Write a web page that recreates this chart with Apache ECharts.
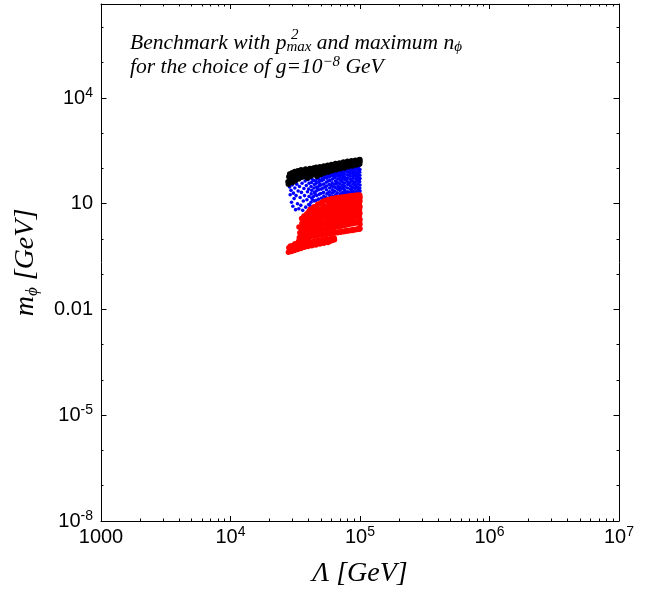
<!DOCTYPE html>
<html><head><meta charset="utf-8">
<script src="https://cdn.jsdelivr.net/npm/echarts@6/dist/echarts.min.js"></script>
<style>html,body{margin:0;padding:0;background:#fff}#c{width:652px;height:595px}</style>
</head><body><div id="c"></div>
<script>
// ---------- axis ticks & labels ----------
const xLabelTicks = [1e3, 1e4, 1e5, 1e6, 1e7];
const xLabelText = [['1000', ''], ['10', '4'], ['10', '5'], ['10', '6'], ['10', '7']];
const xMinorTicks = [2e3,3e3,4e3,5e3,6e3,7e3,8e3,9e3, 2e4,3e4,4e4,5e4,6e4,7e4,8e4,9e4,
                     2e5,3e5,4e5,5e5,6e5,7e5,8e5,9e5, 2e6,3e6,4e6,5e6,6e6,7e6,8e6,9e6];
const yLabelTicks = [1e-8, 1e-5, 1e-2, 1e1, 1e4];
const yLabelText = [['10', '-8'], ['10', '-5'], ['0.01', ''], ['10', ''], ['10', '4']];
const yDecadeTicks = [1e-7,1e-6,1e-4,1e-3,1e-1,1,1e2,1e3,1e5,1e6];
const xRange = [1e3, 1e7];
const yRange = [1e-8, 4.64e6];

// ---------- data : [Λ (GeV), m_φ (GeV)] ----------
const bluePoints = [
[28.6e3,30],[28.9e3,18],[29.3e3,24],[29.6e3,11],[29.9e3,34],[30.3e3,8.5],[30.6e3,20],[31.0e3,14],[31.4e3,28],[31.8e3,6.8],
[32.1e3,17],[32.5e3,36],[32.9e3,10],[33.3e3,23],[33.7e3,7.2],[34.1e3,31],[34.5e3,15],[34.9e3,9],[35.3e3,21],[35.7e3,38],
[36.1e3,6.5],[36.5e3,12],[36.9e3,27],[37.3e3,17],[37.7e3,44],[38.1e3,8],[38.5e3,33],[38.9e3,13],[39.3e3,22],[39.7e3,48],
[40.2e3,9.5],[40.4e3,16],[40.1e3,26],[40.5e3,38],
[42.1e3,7],[41.8e3,11],[42.3e3,14.5],[42.0e3,19],[42.4e3,24],[41.9e3,31],[42.2e3,40],[42.5e3,50],
[44.0e3,8.2],[44.3e3,12],[43.8e3,16],[44.5e3,21],[44.1e3,28],[44.4e3,35],[43.9e3,46],
[46.1e3,9],[45.8e3,12.5],[46.4e3,17],[46.0e3,23],[46.3e3,30],[45.9e3,38],[46.5e3,52],
[48.2e3,10],[47.9e3,13.5],[48.5e3,18.5],[48.0e3,25],[48.4e3,32],[48.1e3,42],[47.8e3,56],
[50.1e3,10.5],[50.4e3,14.5],[49.8e3,19.5],[50.3e3,26],[50.0e3,34],[50.5e3,45],[50.2e3,60],
[52.3e3,11],[52.0e3,13],[52.6e3,16.5],[52.2e3,21],[51.9e3,28],[52.5e3,36],[52.1e3,48],[52.4e3,63],
[55.2e3,11.5],[54.8e3,15],[55.5e3,19],[55.0e3,25],[55.3e3,32],[54.9e3,41],[55.4e3,53],[55.1e3,67],
[58.1e3,12],[57.8e3,13.5],[58.4e3,17],[58.0e3,22],[58.3e3,28],[57.9e3,35],[58.5e3,46],[58.2e3,58],[57.7e3,72],
[61.0e3,12.5],[61.4e3,16],[60.8e3,20],[61.2e3,25],[61.5e3,31],[60.9e3,39],[61.3e3,50],[61.1e3,62],[60.7e3,76],
[64.2e3,13],[63.8e3,14.5],[64.5e3,18],[64.0e3,23],[64.3e3,29],[63.9e3,36],[64.6e3,44],[64.1e3,55],[64.4e3,68],[63.7e3,80],
[67.0e3,13.5],[67.4e3,16.5],[66.8e3,20.5],[67.2e3,26],[67.5e3,32],[66.9e3,40],[67.3e3,50],[67.1e3,61],[66.7e3,73],[67.6e3,84],
[70.2e3,14],[69.8e3,15.5],[70.5e3,19],[70.0e3,24],[70.4e3,30],[69.9e3,37],[70.6e3,46],[70.1e3,56],[70.3e3,68],[69.7e3,86],
[73.1e3,14.5],[72.8e3,17.5],[73.5e3,21],[73.0e3,27],[73.3e3,34],[72.9e3,42],[73.6e3,52],[73.2e3,63],[72.7e3,76],[73.4e3,90],
[76.2e3,15],[75.8e3,16.5],[76.5e3,20],[76.0e3,25],[76.4e3,31],[75.9e3,38],[76.6e3,47],[76.1e3,58],[76.3e3,70],[75.7e3,84],[76.7e3,94],
[80.1e3,15.5],[79.7e3,18],[80.5e3,22],[80.0e3,28],[80.4e3,35],[79.8e3,43],[80.6e3,53],[80.2e3,65],[80.3e3,78],[79.6e3,96],
[84.2e3,16],[83.8e3,17.5],[84.6e3,21],[84.0e3,26],[84.4e3,32],[83.9e3,40],[84.7e3,49],[84.1e3,60],[84.3e3,73],[83.7e3,88],[84.8e3,104],
[88.0e3,16.5],[87.6e3,19],[88.5e3,23],[87.9e3,29],[88.3e3,36],[87.7e3,44],[88.6e3,55],[88.1e3,67],[88.4e3,81],[87.5e3,96],[88.7e3,110],
[92.1e3,17],[91.7e3,18.5],[92.6e3,22],[92.0e3,27],[92.4e3,33],[91.8e3,41],[92.7e3,50],[92.2e3,62],[92.5e3,75],[91.6e3,90],[92.8e3,114],
[96.0e3,17.5],[95.6e3,20],[96.5e3,24],[95.9e3,30],[96.3e3,37],[95.7e3,46],[96.6e3,56],[96.1e3,69],[96.4e3,84],[95.5e3,100],[96.7e3,120],
[99.8e3,18],[99.4e3,19.5],[100.0e3,23],[99.6e3,28],[99.9e3,34],[99.3e3,42],[100.0e3,52],[99.7e3,64],[99.5e3,78],[99.9e3,94],[99.2e3,124],
[41.0e3,9],[43.0e3,13],[45.0e3,19],[47.0e3,27],[49.0e3,36],[51.0e3,50],[53.5e3,14],[54.0e3,30],[56.5e3,20],[57.0e3,44],
[59.5e3,15],[60.0e3,33],[62.5e3,22],[63.0e3,58],[65.5e3,17],[66.0e3,38],[68.5e3,27],[69.0e3,64],[71.5e3,18],[72.0e3,45],
[74.5e3,31],[75.0e3,72],[77.5e3,22],[78.0e3,52],[82.0e3,19],[82.5e3,37],[83.0e3,66],[86.0e3,25],[86.5e3,48],[87.0e3,88],
[90.0e3,21],[90.5e3,40],[91.0e3,70],[94.0e3,30],[94.5e3,58],[95.0e3,105],[98.0e3,26],[98.5e3,48],[98.0e3,86],[97.5e3,110],
[78.5e3,86],[81.5e3,100],[85.5e3,94],[89.5e3,102],[93.5e3,108],[62.0e3,70],[65.0e3,76],[68.0e3,80],[71.0e3,76],[74.0e3,84],
[45.5e3,44],[48.5e3,48],[53.0e3,56],[56.0e3,60],[59.0e3,64]
];

const redPoints = [
[28.0e3,0.42],[28.2e3,0.56],[28.8e3,0.48],[29.0e3,0.63],[29.6e3,0.44],[29.8e3,0.58],[30.4e3,0.51],[30.6e3,0.67],[31.2e3,0.47],[31.0e3,0.6],
[31.5e3,0.73],[32.0e3,0.53],[32.3e3,0.68],[33.0e3,0.5],[32.8e3,0.63],[33.2e3,0.79],[34.0e3,0.56],[34.2e3,0.72],[33.8e3,0.9],[35.0e3,0.54],
[35.3e3,0.68],[36.0e3,0.6],[36.2e3,0.76],[35.8e3,0.95],[37.2e3,0.58],[37.4e3,0.72],[38.4e3,0.63],[38.6e3,0.8],[39.6e3,0.61],[39.4e3,0.75],
[39.8e3,0.92],[41.0e3,0.66],[41.2e3,0.84],[42.4e3,0.64],[42.6e3,0.78],[44.0e3,0.7],[44.2e3,0.88],[45.6e3,0.68],[45.8e3,0.82],[47.2e3,0.74],
[47.4e3,0.92],[49.0e3,0.72],[49.2e3,0.86],[50.8e3,0.78],[51.0e3,0.96],[52.6e3,0.76],[52.8e3,0.9],[54.6e3,0.82],[54.8e3,1.0],[56.6e3,0.8],
[56.8e3,0.94],[58.8e3,0.87],[59.0e3,1.04],[61.0e3,0.9],[61.2e3,1.01],[63.5e3,0.95],[63.2e3,1.06],
[34.0e3,1.1],[34.3e3,1.5],[33.8e3,2.2],
[35.5e3,1.0],[35.7e3,1.3],[35.3e3,1.9],[35.6e3,2.8],[35.4e3,3.8],
[37.0e3,1.2],[37.2e3,1.6],[36.8e3,2.4],[37.1e3,3.3],[36.9e3,4.5],
[38.5e3,1.1],[38.7e3,1.4],[38.3e3,2.0],[38.6e3,2.9],[38.4e3,4.0],[38.8e3,5.2],
[40.0e3,1.2],[40.2e3,1.7],[39.8e3,2.5],[40.1e3,3.5],[39.9e3,4.8],[40.3e3,6.0],
[41.5e3,1.15],[41.7e3,1.5],[41.3e3,2.1],[41.6e3,3.0],[41.4e3,4.2],[41.8e3,5.8],[41.2e3,7.0],
[43.0e3,1.3],[43.2e3,1.9],[42.8e3,2.7],[43.1e3,3.8],[42.9e3,5.2],[43.3e3,7.5],
[44.5e3,1.2],[44.7e3,1.6],[44.3e3,2.3],[44.6e3,3.3],[44.4e3,4.6],[44.8e3,6.4],[44.2e3,8.2],
[46.0e3,1.35],[46.2e3,2.0],[45.8e3,2.9],[46.1e3,4.1],[45.9e3,5.8],[46.3e3,8.5],
[47.5e3,1.25],[47.7e3,1.7],[47.3e3,2.5],[47.6e3,3.6],[47.4e3,5.0],[47.8e3,7.0],[47.2e3,9.6],
[49.0e3,1.4],[49.2e3,2.1],[48.8e3,3.0],[49.1e3,4.3],[48.9e3,6.2],[49.3e3,10.2],
[51.0e3,1.3],[51.2e3,1.8],[50.8e3,2.6],[51.1e3,3.8],[50.9e3,5.4],[51.3e3,7.6],[50.7e3,11],
[53.0e3,1.4],[53.2e3,2.0],[52.8e3,2.9],[53.1e3,4.2],[52.9e3,6.0],[53.3e3,8.6],[52.7e3,12],
[55.0e3,1.35],[55.2e3,1.9],[54.8e3,2.7],[55.1e3,3.9],[54.9e3,5.6],[55.3e3,8.0],[54.7e3,12.5],
[57.0e3,1.45],[57.2e3,2.2],[56.8e3,3.2],[57.1e3,4.6],[56.9e3,6.6],[57.3e3,9.4],[56.7e3,13.0],
[59.0e3,1.4],[59.2e3,2.0],[58.8e3,2.9],[59.1e3,4.2],[58.9e3,6.0],[59.3e3,8.5],[58.7e3,11.5],[59.4e3,13.5],
[61.0e3,1.5],[61.2e3,2.3],[60.8e3,3.4],[61.1e3,5.0],[60.9e3,7.2],[61.3e3,10.2],[60.7e3,14],
[63.0e3,1.45],[63.2e3,2.1],[62.8e3,3.0],[63.1e3,4.4],[62.9e3,6.4],[63.3e3,9.0],[62.7e3,12.5],[63.4e3,14.2],
[65.0e3,1.55],[65.2e3,2.4],[64.8e3,3.5],[65.1e3,5.2],[64.9e3,7.6],[65.3e3,11],[64.7e3,14.5],
[67.0e3,1.5],[67.2e3,2.2],[66.8e3,3.2],[67.1e3,4.7],[66.9e3,6.8],[67.3e3,9.8],[66.7e3,13.0],[67.4e3,14.8],
[69.0e3,1.6],[69.2e3,2.5],[68.8e3,3.7],[69.1e3,5.5],[68.9e3,8.0],[69.3e3,11.5],[68.7e3,15],
[71.0e3,1.55],[71.2e3,2.3],[70.8e3,3.4],[71.1e3,5.0],[70.9e3,7.2],[71.3e3,10.4],[70.7e3,13.5],[71.4e3,15.2],
[73.0e3,1.65],[73.2e3,2.6],[72.8e3,3.9],[73.1e3,5.8],[72.9e3,8.5],[73.3e3,12],[72.7e3,15.4],
[75.0e3,1.6],[75.2e3,2.4],[74.8e3,3.6],[75.1e3,5.3],[74.9e3,7.6],[75.3e3,11],[74.7e3,14],[75.4e3,15.6],
[77.0e3,1.7],[77.2e3,2.7],[76.8e3,4.0],[77.1e3,6.0],[76.9e3,9.0],[77.3e3,12.8],[76.7e3,15.8],
[79.0e3,1.65],[79.2e3,2.5],[78.8e3,3.7],[79.1e3,5.5],[78.9e3,8.0],[79.3e3,11.5],[78.7e3,14.2],[79.4e3,16],
[81.0e3,1.75],[81.2e3,2.8],[80.8e3,4.2],[81.1e3,6.3],[80.9e3,9.4],[81.3e3,13.2],[80.7e3,16.2],
[83.0e3,1.7],[83.2e3,2.6],[82.8e3,3.9],[83.1e3,5.8],[82.9e3,8.4],[83.3e3,12],[82.7e3,14.6],[83.4e3,16.4],
[85.0e3,1.8],[85.2e3,2.9],[84.8e3,4.4],[85.1e3,6.6],[84.9e3,9.8],[85.3e3,13.8],[84.7e3,16.6],
[87.0e3,1.75],[87.2e3,2.7],[86.8e3,4.0],[87.1e3,6.0],[86.9e3,8.8],[87.3e3,12.6],[86.7e3,15],[87.4e3,16.8],
[89.0e3,1.85],[89.2e3,3.0],[88.8e3,4.6],[89.1e3,6.9],[88.9e3,10.2],[89.3e3,14.4],[88.7e3,17],
[91.0e3,1.8],[91.2e3,2.8],[90.8e3,4.2],[91.1e3,6.2],[90.9e3,9.2],[91.3e3,13],[90.7e3,15.4],[91.4e3,17.2],
[93.0e3,1.9],[93.2e3,3.1],[92.8e3,4.8],[93.1e3,7.2],[92.9e3,10.6],[93.3e3,14.8],[92.7e3,17.3],
[95.0e3,1.85],[95.2e3,2.9],[94.8e3,4.4],[95.1e3,6.5],[94.9e3,9.6],[95.3e3,13.6],[94.7e3,15.8],[95.4e3,17.4],
[97.0e3,1.95],[97.2e3,3.2],[96.8e3,5.0],[97.1e3,7.5],[96.9e3,11],[97.3e3,15.2],[96.7e3,17.5],
[99.0e3,1.9],[99.2e3,3.0],[98.8e3,4.6],[99.1e3,6.8],[98.9e3,10],[99.3e3,14],[98.7e3,16],[99.4e3,17.6],
[100.0e3,2.0],[99.9e3,2.6],[100.0e3,3.6],[99.8e3,5.4],[100.0e3,8.2],[99.9e3,12],[100.0e3,15.5]
];

const blackPoints = [
[27.8e3,42],[28.2e3,58],[28.6e3,70],[29.1e3,47],[29.5e3,62],[29.9e3,76],
[30.4e3,52],[30.8e3,68],[31.3e3,82],[31.7e3,45],[32.2e3,60],[32.6e3,74],
[33.1e3,86],[33.6e3,50],[34.1e3,66],[34.6e3,80],[35.1e3,92],[35.6e3,56],
[36.2e3,72],[36.8e3,88],[37.4e3,62],[38.0e3,96],[38.6e3,78],[39.2e3,54],
[39.8e3,68],[40.4e3,90],[41.0e3,100],[41.6e3,60],[42.3e3,76],[43.0e3,94],
[43.7e3,104],[44.4e3,66],[45.1e3,84],[45.8e3,108],[46.6e3,60],[47.4e3,74],
[48.2e3,96],[49.0e3,112],[49.8e3,68],[50.7e3,86],[51.6e3,104],[52.5e3,118],
[53.4e3,74],[54.3e3,92],[55.2e3,112],[56.2e3,124],[57.2e3,80],[58.2e3,100],
[59.2e3,118],[60.2e3,130],[61.3e3,86],[62.4e3,106],[63.5e3,126],[64.6e3,138],
[65.8e3,92],[67.0e3,114],[68.2e3,132],[69.4e3,144],[70.6e3,98],[71.9e3,120],
[73.2e3,140],[74.5e3,152],[75.8e3,104],[77.2e3,128],[78.6e3,148],[80.0e3,160],
[81.4e3,112],[82.9e3,136],[84.4e3,156],[85.9e3,166],[87.4e3,118],[89.0e3,142],
[90.6e3,162],[92.2e3,172],[93.8e3,126],[95.4e3,150],[97.0e3,168],[98.5e3,176],
[99.5e3,134],[100.0e3,158],[99.8e3,180],[96.2e3,138],[88.2e3,130],[79.5e3,118],
[72.5e3,108],[66.5e3,100],[60.8e3,94],[55.8e3,84],[51.2e3,78],[46.2e3,70],
[42.0e3,64],[37.8e3,58],[33.9e3,55],[30.1e3,40],[28.0e3,36]
];

// ---------- chart ----------
const LBL_FONT = 'Liberation Sans';
const SERIF = 'Liberation Serif';
const tickRich = {
  b: {fontSize: 20, lineHeight: 24, fontFamily: LBL_FONT, color: '#000'},
  s: {fontSize: 14, lineHeight: 14, verticalAlign: 'top', fontFamily: LBL_FONT, color: '#000'}
};
function makeFormatter(ticks, texts) {
  return function (v) {
    let best = 0, bd = Infinity;
    for (let i = 0; i < ticks.length; i++) {
      const d = Math.abs(Math.log10(v) - Math.log10(ticks[i]));
      if (d < bd) { bd = d; best = i; }
    }
    const t = texts[best];
    return '{b|' + t[0] + '}' + (t[1] ? '{s|' + t[1] + '}' : '');
  };
}
const axisLineStyle = {color: '#000', width: 1};
function tickAxis(pos, range, ticks, len, opts) {
  return Object.assign({
    type: 'log', logBase: 10, min: range[0], max: range[1], position: pos,
    axisLine: {show: false, onZero: false},
    axisTick: {show: true, inside: true, length: len, customValues: ticks, lineStyle: {color: '#000', width: 1}},
    axisLabel: {show: false},
    splitLine: {show: false}, minorTick: {show: false}, minorSplitLine: {show: false}
  }, opts || {});
}

const chart = echarts.init(document.getElementById('c'), null, {renderer: 'canvas'});
chart.setOption({
  animation: false,
  backgroundColor: '#fff',
  grid: {left: 101, top: 4, right: 33, bottom: 74, containLabel: false},
  xAxis: [
    tickAxis('bottom', xRange, xLabelTicks, 5, {
      axisLine: {show: true, onZero: false, lineStyle: axisLineStyle},
      axisLabel: {show: true, customValues: xLabelTicks, formatter: makeFormatter(xLabelTicks, xLabelText), margin: 4, rich: tickRich},
      name: '{i|Λ} {i|[GeV]}', nameLocation: 'middle', nameGap: 39,
      nameTextStyle: {rich: {i: {fontFamily: SERIF, fontStyle: 'italic', fontSize: 28, color: '#000'}}, fontFamily: SERIF, fontStyle: 'italic', fontSize: 28, color: '#000'}
    }),
    tickAxis('bottom', xRange, xMinorTicks, 2.5),
    tickAxis('top', xRange, xLabelTicks, 5, {axisLine: {show: true, onZero: false, lineStyle: axisLineStyle}}),
    tickAxis('top', xRange, xMinorTicks, 2.5)
  ],
  yAxis: [
    tickAxis('left', yRange, yLabelTicks, 5.5, {
      axisLine: {show: true, onZero: false, lineStyle: axisLineStyle},
      axisLabel: {show: true, customValues: yLabelTicks, formatter: makeFormatter(yLabelTicks, yLabelText), margin: 8, rich: tickRich},
      name: '{m|m}{sub|ϕ} {m|[GeV]}', nameLocation: 'middle', nameGap: 60,
      nameTextStyle: {
        fontFamily: SERIF, fontStyle: 'italic', fontSize: 28, color: '#000',
        rich: {
          m: {fontFamily: SERIF, fontStyle: 'italic', fontSize: 28, lineHeight: 30, color: '#000'},
          sub: {fontFamily: SERIF, fontStyle: 'italic', fontSize: 17, lineHeight: 17, verticalAlign: 'bottom', color: '#000'}
        }
      }
    }),
    tickAxis('left', yRange, yDecadeTicks, 2.5),
    tickAxis('right', yRange, yLabelTicks, 5.5, {axisLine: {show: true, onZero: false, lineStyle: axisLineStyle}}),
    tickAxis('right', yRange, yDecadeTicks, 2.5)
  ],
  series: [
    {type: 'scatter', name: 'blue', xAxisIndex: 0, yAxisIndex: 0, data: bluePoints, symbol: 'circle', symbolSize: 3.6,
     itemStyle: {color: '#0000ff', opacity: 1, borderWidth: 0}, silent: true},
    {type: 'scatter', name: 'red', xAxisIndex: 0, yAxisIndex: 0, data: redPoints, symbol: 'circle', symbolSize: 5.5,
     itemStyle: {color: '#ff0000', opacity: 1, borderWidth: 0}, silent: true},
    {type: 'scatter', name: 'black', xAxisIndex: 0, yAxisIndex: 0, data: blackPoints, symbol: 'circle', symbolSize: 5.5,
     itemStyle: {color: '#000000', opacity: 1, borderWidth: 0}, silent: true}
  ],
  graphic: [
    {type: 'text', left: 130, top: 32, silent: true,
     style: {
       text: '{t|Benchmark with p}{sub|max}{t| and maximum n}{sub|ϕ}\n{t|for the choice of g=10}{sup|−8}{t| GeV}',
       fontFamily: SERIF, fontStyle: 'italic', fontSize: 21.5, fill: '#000',
       rich: {
         t: {fontFamily: SERIF, fontStyle: 'italic', fontSize: 21.5, lineHeight: 24, fill: '#000'},
         sub: {fontFamily: SERIF, fontStyle: 'italic', fontSize: 15, lineHeight: 15, verticalAlign: 'bottom', fill: '#000'},
         sup: {fontFamily: SERIF, fontStyle: 'italic', fontSize: 15, lineHeight: 15, verticalAlign: 'top', fill: '#000'}
       }
     }},
    {type: 'text', left: 291, top: 28, silent: true,
     style: {text: '2', fontFamily: SERIF, fontStyle: 'italic', fontSize: 15, fill: '#000'}}
  ]
});
</script>
</body></html>
